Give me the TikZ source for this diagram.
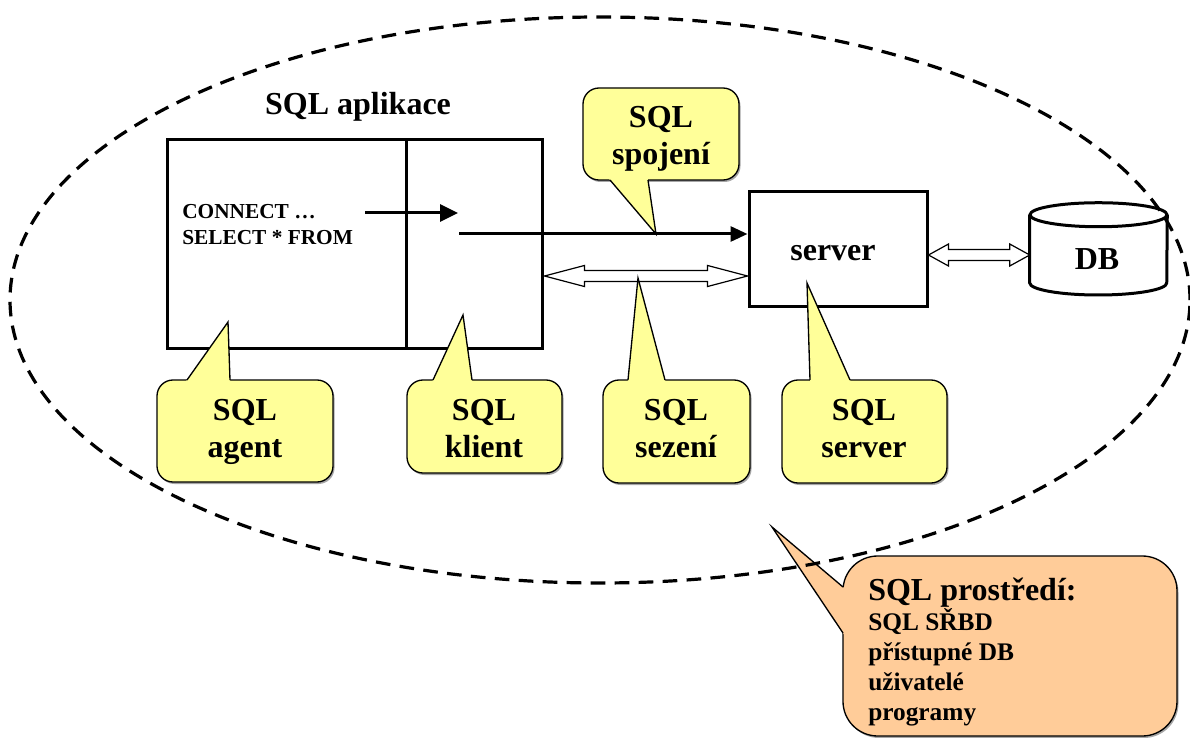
\documentclass[tikz,border=0pt]{standalone}
\usepackage{fontspec}
\setmainfont{Liberation Serif}
\usetikzlibrary{arrows.meta,fit,calc}
\definecolor{bubbleyellow}{HTML}{FFFF99}
\definecolor{bubbleorange}{HTML}{FFCC99}

% speech bubble: fill colour, corner radius, frame corner, opposite corner,
% pointer base start, pointer tip, pointer base end
\newcommand\bubble[7]{%
  \fill[bubbleshadow, rounded corners=#2] ($(#3)+(1.5,2)$) rectangle ($(#4)+(1.5,2)$);
  \filldraw[bubbleedge, fill=#1, rounded corners=#2] (#3) rectangle (#4);
  \fill[#1] (#6) -- ($(#6)!1.1!(#5)$) -- ($(#6)!1.1!(#7)$) -- cycle;
  \draw[bubbleedge] (#5) -- (#6) -- (#7);
}

% horizontal hollow double arrow between two points:
% head length, head half width, shaft half width
\newcommand\hollowarrow[5]{%
  \draw[hollow] let \p1=(#1), \p2=(#2) in
    (\x1,\y1) -- (\x1+#3,\y1+#4) -- (\x1+#3,\y1+#5) -- (\x2-#3,\y1+#5)
    -- (\x2-#3,\y1+#4) -- (\x2,\y1) -- (\x2-#3,\y1-#4) -- (\x2-#3,\y1-#5)
    -- (\x1+#3,\y1-#5) -- (\x1+#3,\y1-#4) -- cycle;
}

\begin{document}
\begin{tikzpicture}[x=0.75pt,y=-0.75pt,
  box/.style={draw, line width=2.25pt, inner sep=0pt},
  area/.style={inner sep=0pt},
  thick line/.style={line width=2.25pt},
  bubbleedge/.style={draw=black, line width=1pt},
  bubbleshadow/.style={fill=black!35},
  hollow/.style={draw=black, line width=0.9pt, fill=white, line join=miter},
  envelope/.style={draw, line width=2.4pt, dash pattern=on 11pt off 7pt},
  bigtext/.style={font=\fontsize{24}{27.75}\selectfont\bfseries, inner sep=0pt},
  listtext/.style={font=\fontsize{19}{22.5}\selectfont\bfseries, inner sep=0pt, align=left},
  codetext/.style={font=\fontsize{16}{19.5}\selectfont\bfseries, inner sep=0pt, align=left},
]
\useasboundingbox (0,0) rectangle (1190,738);

% application box, split into agent and client parts
\node[box, fit={(167,140) (542,348)}] (app) {};
\draw[thick line] (app.north -| 406,0) -- (app.south -| 406,0);
\node[bigtext, anchor=base] (apptitle) at (358,115) {SQL aplikace};
\node[codetext, anchor=base west] (code) at (182,245) {CONNECT …\\SELECT * FROM};

% server box
\node[box, fit={(749,192) (927,307)}] (server) {};
\node[bigtext, anchor=base] (serverlbl) at (833,261) {server};

% database cylinder
\node[area, fit={(1030,203) (1167,295)}] (db) {};
\draw[thick line, fill=white] (db.north west |- 0,215) -- (db.south west |- 0,283)
  arc[start angle=180, end angle=360, x radius=51.375pt, y radius=9pt]
  -- (db.north east |- 0,215);
\draw[thick line] ($(db.north)+(0,12)$) ellipse [x radius=51.375pt, y radius=9pt];
\node[bigtext, anchor=base] (dblbl) at (1097,270) {DB};

% statement flow inside the application and connection to the server
\coordinate (stmtfrom) at (365,213);
\coordinate (stmtto) at (458,213);
\coordinate (connfrom) at (459,234);
\draw[thick line, -{Triangle[length=13.5pt, width=12.75pt]}] (stmtfrom) -- (stmtto);
\draw[thick line, -{Triangle[length=12.75pt, width=11.25pt]}] (connfrom) -- ($(server.west)+(0,-15.5)$);

% session and database access
\hollowarrow{$(app.east)+(1,32)$}{$(server.west)+(0,26.5)$}{30pt}{7.9pt}{4.1pt}
\hollowarrow{$(server.east)+(0,5.5)$}{$(db.west)+(0,6)$}{15pt}{8.25pt}{4.1pt}

% speech bubbles
\bubble{bubbleyellow}{12pt}{583,88}{739,180}{610,180}{656,234}{648,180}
\node[bigtext, anchor=base, align=center] (spojeni) at (661,165) {SQL\\spojení};

\bubble{bubbleyellow}{12pt}{157,380}{333,482}{187,380}{228,322}{230,380}
\node[bigtext, anchor=base, align=center] (agent) at (245,457) {SQL\\agent};

\bubble{bubbleyellow}{12pt}{407,380}{562,473}{433,380}{463,315}{472,380}
\node[bigtext, anchor=base, align=center] (klient) at (484,457) {SQL\\klient};

\bubble{bubbleyellow}{12pt}{603,380}{750,483}{628,380}{638,278}{665,380}
\node[bigtext, anchor=base, align=center] (sezeni) at (676,457) {SQL\\sezení};

\bubble{bubbleyellow}{12pt}{782,380}{947,483}{810,380}{807,283}{850,380}
\node[bigtext, anchor=base, align=center] (srv) at (864,457) {SQL\\server};

\bubble{bubbleorange}{26pt}{843,556}{1177,736}{843,587}{772,527}{843,633}
\node[bigtext, anchor=base west] (envtitle) at (868,600) {SQL prostředí:};
\node[listtext, anchor=base west] (envlist) at (868,720)
  {SQL SŘBD\\přístupné DB\\uživatelé\\programy};

% SQL environment
\draw[envelope] (600,300) ellipse [x radius=442.5pt, y radius=212.25pt];
\end{tikzpicture}
\end{document}
